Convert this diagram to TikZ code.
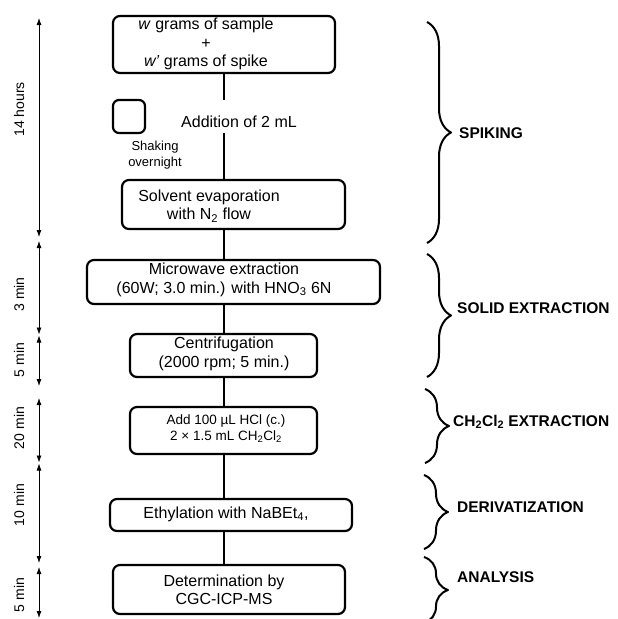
\documentclass[tikz,border=0pt]{standalone}
\usepackage{fontspec}
\setmainfont{Liberation Sans}
\usetikzlibrary{arrows.meta,decorations.pathreplacing}

\tikzset{
  stage/.style 2 args={draw, line width=2.2pt, rounded corners=7pt,
    minimum width=#1, minimum height=#2, inner sep=0pt},
  steptext/.style={align=center, inner sep=0pt, font=\fontsize{16}{18.5}\selectfont},
  smalltext/.style={align=center, inner sep=0pt, font=\fontsize{13.5}{16}\selectfont},
  link/.style={line width=2.2pt},
  timespan/.style={<->, line width=0.8pt},
  timetext/.style={rotate=90, inner sep=0pt, font=\fontsize{14}{16}\selectfont},
  phase/.style={decorate, decoration={brace, amplitude=24pt}, line width=2pt},
  phasetext/.style={anchor=west, inner sep=0pt, font=\fontsize{15.5}{18}\bfseries\selectfont},
}

\begin{document}
\begin{tikzpicture}[x=1pt,y=-1pt,line cap=butt,line join=round,>={Latex[length=7pt,width=5pt]}]
  \useasboundingbox (0,0) rectangle (618,619);
  \clip (0,0) rectangle (618,619);

  % process boxes
  \node[stage={222pt}{57pt}] (sample) at (224,44.5) {};
  \node[stage={223pt}{49pt}] (evap) at (233.5,204.5) {};
  \node[stage={293pt}{44pt}] (micro) at (233.5,282) {};
  \node[stage={187pt}{43pt}] (centri) at (223.5,355.5) {};
  \node[stage={187pt}{47pt}] (acid) at (223.5,430.5) {};
  \node[stage={242pt}{32pt}] (ethyl) at (231,515) {};
  \node[stage={232pt}{49pt}] (determ) at (229,589.5) {};

  \node[steptext] (sample-t) at (206,44) {\textit{w} grams of sample\\+\\\textit{w’} grams of spike};
  \node[steptext] (evap-t) at (209,206) {Solvent evaporation\\with N\textsubscript{2} flow};
  \node[steptext] (micro-t) at (224,280) {Microwave extraction\\(60W; 3.0 min.) with HNO\textsubscript{3} 6N};
  \node[steptext] (centri-t) at (224,354) {Centrifugation\\(2000 rpm; 5 min.)};
  \node[smalltext] (acid-t) at (226,429) {Add 100 µL HCl (c.)\\2 × 1.5 mL CH\textsubscript{2}Cl\textsubscript{2}};
  \node[steptext] (ethyl-t) at (226,514) {Ethylation with NaBEt\textsubscript{4},};
  \node[steptext] (determ-t) at (224,590) {Determination by\\CGC-ICP-MS};

  % shaking and addition
  \node[draw, line width=2.2pt, rounded corners=6pt, minimum width=32pt, minimum height=33pt,
    inner sep=0pt] (shaker) at (129,116.5) {};
  \node[align=center, inner sep=0pt, font=\fontsize{13}{16}\selectfont] (shaker-t) at (155,155) {Shaking\\overnight};
  \node[steptext] (addition) at (239,122) {Addition of 2 mL};

  % main line
  \coordinate (spine) at (224,0);
  \coordinate (gap-top) at (224,100);
  \coordinate (gap-bot) at (224,133);
  \draw[link] (sample.south) -- (gap-top);
  \draw[link] (gap-bot) -- (gap-bot |- evap.north);
  \draw[link] (evap.south -| spine) -- (micro.north -| spine);
  \draw[link] (micro.south -| spine) -- (centri.north -| spine);
  \draw[link] (centri.south -| spine) -- (acid.north -| spine);
  \draw[link] (acid.south -| spine) -- (ethyl.north -| spine);
  \draw[link] (ethyl.south -| spine) -- (determ.north -| spine);

  % time line
  \coordinate (t0) at (39,18);
  \coordinate (t1) at (39,237);
  \coordinate (t2) at (39,241);
  \coordinate (t3) at (39,334.5);
  \coordinate (t4) at (39,335.5);
  \coordinate (t5) at (39,386);
  \coordinate (t6) at (39,398);
  \coordinate (t7) at (39,462.5);
  \coordinate (t8) at (39,463.5);
  \coordinate (t9) at (39,563);
  \coordinate (t10) at (39,567);
  \coordinate (t11) at (39,618);
  \draw[timespan] (t0) -- (t1);
  \draw[timespan] (t2) -- (t3);
  \draw[timespan] (t4) -- (t5);
  \draw[timespan] (t6) -- (t7);
  \draw[timespan] (t8) -- (t9);
  \draw[timespan] (t10) -- (t11);
  \node[timetext] (hours14) at (19,109.5) {14 hours};
  \node[timetext] (min3) at (19,294.5) {3 min};
  \node[timetext] (min5a) at (19,360) {5 min};
  \node[timetext] (min20) at (19,428) {20 min};
  \node[timetext] (min10) at (19,505) {10 min};
  \node[timetext] (min5b) at (19,595) {5 min};

  % phases
  \draw[phase] (427,22) -- (427,243);
  \draw[phase] (427,254) -- (427,377);
  \draw[phase] (425,389) -- (425,463);
  \draw[phase] (424,475) -- (424,549);
  \draw[phase] (424,557) -- (424,623);
  \node[phasetext] (spiking) at (459,133) {SPIKING};
  \node[phasetext] (solid) at (457,308) {SOLID EXTRACTION};
  \node[phasetext] (solvent) at (453,422) {CH\textsubscript{2}Cl\textsubscript{2} EXTRACTION};
  \node[phasetext] (deriv) at (457,507) {DERIVATIZATION};
  \node[phasetext] (analysis) at (457,577) {ANALYSIS};
\end{tikzpicture}
\end{document}
